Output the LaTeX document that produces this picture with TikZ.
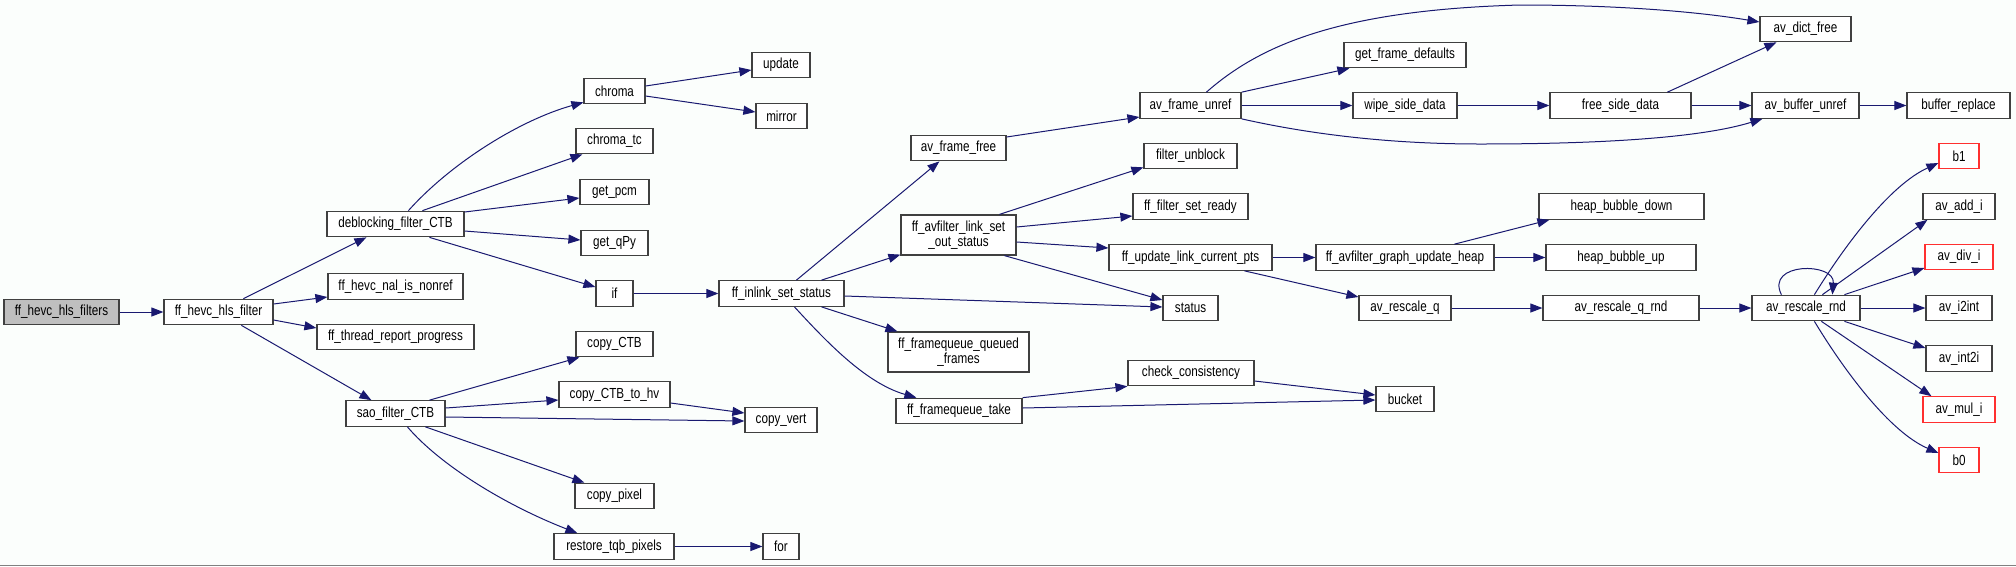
\documentclass[tikz,border=0pt]{standalone}
\usepackage{fontspec}
\setmainfont{Liberation Sans}
\newfontfamily\fnfamily{Liberation Sans}[FakeStretch=0.8]
\usetikzlibrary{arrows.meta}
\definecolor{edgeblue}{HTML}{191970}
\definecolor{boxline}{HTML}{404040}
\definecolor{bgcol}{HTML}{FBFEFC}
\definecolor{rootfill}{HTML}{BFBFBF}
\definecolor{warnred}{HTML}{FF3030}
\tikzset{
  fn/.style={draw=boxline, line width=1.2pt, fill=white, inner sep=0pt,
    minimum height=25.5pt, align=center, text=black,
    font=\fnfamily\fontsize{14.6pt}{15pt}\selectfont},
  fn2/.style={fn, minimum height=40pt},
  rootfn/.style={fn, fill=rootfill},
  redfn/.style={fn, draw=warnred},
  call/.style={draw=edgeblue, line width=1pt,
    -{Triangle[length=12pt,width=9pt]}, fill=none}
}
\begin{document}
\begin{tikzpicture}[x=1pt,y=-1pt]
\useasboundingbox (0,0) rectangle (2016,566);
\fill[bgcol] (0,0) rectangle (2016,566);
\draw[gray, line width=1pt] (0,565) -- (2016,565);

% nodes
\node[rootfn, minimum width=115pt] (hlsfilters) at (61.5,312) {ff\_hevc\_hls\_filters};
\node[fn, minimum width=109pt] (hlsfilter) at (218.5,312) {ff\_hevc\_hls\_filter};
\node[fn, minimum width=137pt] (deblock) at (395.5,224) {deblocking\_filter\_CTB};
\node[fn, minimum width=135pt] (nonref) at (395.5,286.5) {ff\_hevc\_nal\_is\_nonref};
\node[fn, minimum width=157pt] (report) at (395.5,337) {ff\_thread\_report\_progress};
\node[fn, minimum width=99pt] (sao) at (395.5,413.5) {sao\_filter\_CTB};
\node[fn, minimum width=61pt] (chroma) at (614.5,91) {chroma};
\node[fn, minimum width=58pt] (update) at (781,65) {update};
\node[fn, minimum width=51pt] (mirror) at (781.5,116) {mirror};
\node[fn, minimum width=77pt] (chromatc) at (614.5,141) {chroma\_tc};
\node[fn, minimum width=69pt] (getpcm) at (614.5,192) {get\_pcm};
\node[fn, minimum width=67pt] (getqpy) at (614.5,243) {get\_qPy};
\node[fn, minimum width=37pt] (if) at (614.5,293.5) {if};
\node[fn, minimum width=125pt] (inlink) at (781.5,293.5) {ff\_inlink\_set\_status};
\node[fn, minimum width=95pt] (framefree) at (958.5,148) {av\_frame\_free};
\node[fn2, minimum width=115pt] (linkset) at (958.5,235) {ff\_avfilter\_link\_set\\\_out\_status};
\node[fn, minimum width=77pt] (copyctb) at (614.5,344) {copy\_CTB};
\node[fn, minimum width=111pt] (copyhv) at (614.5,394.5) {copy\_CTB\_to\_hv};
\node[fn, minimum width=72pt] (copyvert) at (781,420) {copy\_vert};
\node[fn, minimum width=79pt] (copypixel) at (614.5,496) {copy\_pixel};
\node[fn, minimum width=120pt] (restore) at (614,546.5) {restore\_tqb\_pixels};
\node[fn, minimum width=36pt] (for) at (781,546.5) {for};
\node[fn2, minimum width=141pt] (queued) at (958.5,352) {ff\_framequeue\_queued\\\_frames};
\node[fn, minimum width=126pt] (take) at (959,411) {ff\_framequeue\_take};
\node[fn, minimum width=101pt] (frameunref) at (1190.5,105.5) {av\_frame\_unref};
\node[fn, minimum width=122pt] (getdefaults) at (1405,55) {get\_frame\_defaults};
\node[fn, minimum width=104pt] (wipe) at (1405,105.5) {wipe\_side\_data};
\node[fn, minimum width=141pt] (freeside) at (1620.5,105.5) {free\_side\_data};
\node[fn, minimum width=93pt] (unblock) at (1190.5,156) {filter\_unblock};
\node[fn, minimum width=115pt] (setready) at (1190.5,206.5) {ff\_filter\_set\_ready};
\node[fn, minimum width=163pt] (updatepts) at (1190.5,257.5) {ff\_update\_link\_current\_pts};
\node[fn, minimum width=178pt] (updateheap) at (1405,257.5) {ff\_avfilter\_graph\_update\_heap};
\node[fn, minimum width=165pt] (bubbledown) at (1621.5,206.5) {heap\_bubble\_down};
\node[fn, minimum width=150pt] (bubbleup) at (1621,257.5) {heap\_bubble\_up};
\node[fn, minimum width=55pt] (status) at (1190.5,308) {status};
\node[fn, minimum width=92pt] (rescaleq) at (1405,308) {av\_rescale\_q};
\node[fn, minimum width=156pt] (rescaleqrnd) at (1621,308) {av\_rescale\_q\_rnd};
\node[fn, minimum width=126pt] (check) at (1191,373) {check\_consistency};
\node[fn, minimum width=58pt] (bucket) at (1405,399) {bucket};
\node[fn, minimum width=91pt] (dictfree) at (1805.5,29) {av\_dict\_free};
\node[fn, minimum width=107pt] (bufunref) at (1805.5,105.5) {av\_buffer\_unref};
\node[fn, minimum width=103pt] (bufreplace) at (1958.5,105.5) {buffer\_replace};
\node[redfn, minimum width=40pt] (bone) at (1959,156) {b1};
\node[fn, minimum width=72pt] (addi) at (1959,206.5) {av\_add\_i};
\node[redfn, minimum width=68pt] (divi) at (1959,257) {av\_div\_i};
\node[fn, minimum width=108pt] (rescalernd) at (1806,308) {av\_rescale\_rnd};
\node[fn, minimum width=66pt] (itoint) at (1959,308) {av\_i2int};
\node[fn, minimum width=66pt] (inttoi) at (1959,358.5) {av\_int2i};
\node[redfn, minimum width=72pt] (muli) at (1959,409.5) {av\_mul\_i};
\node[redfn, minimum width=40pt] (bzero) at (1959,460) {b0};

% connectors
\draw[call] (hlsfilters.east) -- (hlsfilter.west);
\draw[call] ([xshift=80pt]hlsfilter.north west) -- ([xshift=40pt]deblock.south west);
\draw[call] ([yshift=8pt]hlsfilter.east) -- ([yshift=-10.5pt]nonref.west);
\draw[call] ([yshift=-8pt]hlsfilter.east) -- ([yshift=9pt]report.west);
\draw[call] ([xshift=78pt]hlsfilter.south west) -- ([xshift=26pt]sao.north west);

\draw[call] ([xshift=82pt]deblock.north west) .. controls (451,163) and (520,120) .. ([yshift=2pt]chroma.south west);
\draw[call] ([xshift=96pt]deblock.north west) -- ([xshift=7pt]chromatc.south west);
\draw[call] ([yshift=12pt]deblock.east) -- ([yshift=-6pt]getpcm.west);
\draw[call] ([yshift=-7pt]deblock.east) -- ([yshift=3pt]getqpy.west);
\draw[call] ([xshift=103pt]deblock.south west) -- ([yshift=6.5pt]if.west);
\draw[call] ([yshift=5pt]chroma.east) -- ([yshift=-5pt]update.west);
\draw[call] ([yshift=-5pt]chroma.east) -- ([yshift=4pt]mirror.west);
\draw[call] (if.east) -- (inlink.west);

\draw[call] ([xshift=78pt]inlink.north west) -- ([xshift=29pt]framefree.south west);
\draw[call] ([xshift=103pt]inlink.north west) -- ([yshift=1pt]linkset.south west);
\draw[call] ([yshift=-2.5pt]inlink.east) -- ([yshift=1pt]status.west);
\draw[call] ([xshift=103pt]inlink.south west) -- ([xshift=10pt]queued.north west);
\draw[call] ([xshift=76pt]inlink.south west) .. controls (825,340) and (865,383) .. ([xshift=21pt]take.north west);

\draw[call] ([yshift=11pt]framefree.east) -- ([yshift=-11.5pt]frameunref.west);
\draw[call] ([xshift=67pt]frameunref.north west) .. controls (1260,45) and (1340,10) .. (1520,5)
   .. controls (1620,5) and (1700,12) .. ([yshift=7pt]dictfree.west);
\draw[call] (frameunref.north east) -- ([xshift=6pt]getdefaults.south west);
\draw[call] (frameunref.east) -- (wipe.west);
\draw[call] (frameunref.south east) .. controls (1300,132) and (1380,144) .. (1480,144)
   .. controls (1600,144) and (1700,138) .. ([xshift=11pt]bufunref.south west);
\draw[call] (wipe.east) -- (freeside.west);
\draw[call] ([xshift=118pt]freeside.north west) -- ([xshift=17pt]dictfree.south west);
\draw[call] (freeside.east) -- (bufunref.west);
\draw[call] (bufunref.east) -- (bufreplace.west);

\draw[call] ([xshift=99pt]linkset.north west) -- ([yshift=2pt]unblock.south west);
\draw[call] ([yshift=8pt]linkset.east) -- ([yshift=-9.5pt]setready.west);
\draw[call] ([yshift=-7pt]linkset.east) -- ([yshift=9.5pt]updatepts.west);
\draw[call] ([xshift=104pt]linkset.south west) -- ([yshift=8pt]status.west);
\draw[call] (updatepts.east) -- (updateheap.west);
\draw[call] ([xshift=136pt]updatepts.south west) -- ([yshift=11pt]rescaleq.west);
\draw[call] ([xshift=139pt]updateheap.north west) -- ([xshift=11pt]bubbledown.south west);
\draw[call] (updateheap.east) -- (bubbleup.west);
\draw[call] (rescaleq.east) -- (rescaleqrnd.west);
\draw[call] (rescaleqrnd.east) -- (rescalernd.west);

\draw[call] ([xshift=30pt]rescalernd.north west) .. controls (1765,262) and (1835,262) .. ([xshift=81pt]rescalernd.north west);
\draw[call] ([xshift=63pt]rescalernd.north west) .. controls (1845,245) and (1890,185) .. ([yshift=-7pt]bone.west);
\draw[call] ([xshift=71pt]rescalernd.north west) -- ([xshift=5pt]addi.south west);
\draw[call] ([xshift=93pt]rescalernd.north west) -- ([yshift=-11pt]divi.west);
\draw[call] (rescalernd.east) -- (itoint.west);
\draw[call] ([xshift=93pt]rescalernd.south west) -- ([yshift=10.5pt]inttoi.west);
\draw[call] ([xshift=70pt]rescalernd.south west) -- ([xshift=9pt]muli.north west);
\draw[call] ([xshift=63pt]rescalernd.south west) .. controls (1845,372) and (1890,432) .. ([yshift=7pt]bzero.west);

\draw[call] (take.north east) -- (check.south west);
\draw[call] ([yshift=3pt]take.east) -- ([yshift=-1pt]bucket.west);
\draw[call] ([yshift=-8pt]check.east) -- ([yshift=4pt]bucket.west);

\draw[call] ([xshift=84pt]sao.north west) -- ([xshift=4pt]copyctb.south west);
\draw[call] ([yshift=5.5pt]sao.east) -- ([yshift=-5.5pt]copyhv.west);
\draw[call] ([yshift=-3.5pt]sao.east) -- ([yshift=-1pt]copyvert.west);
\draw[call] ([yshift=-8.5pt]copyhv.east) -- ([yshift=7pt]copyvert.west);
\draw[call] ([xshift=80pt]sao.south west) -- ([xshift=10pt]copypixel.north west);
\draw[call] ([xshift=62pt]sao.south west) .. controls (440,465) and (505,505) .. ([xshift=24pt]restore.north west);
\draw[call] (restore.east) -- (for.west);
\end{tikzpicture}
\end{document}
